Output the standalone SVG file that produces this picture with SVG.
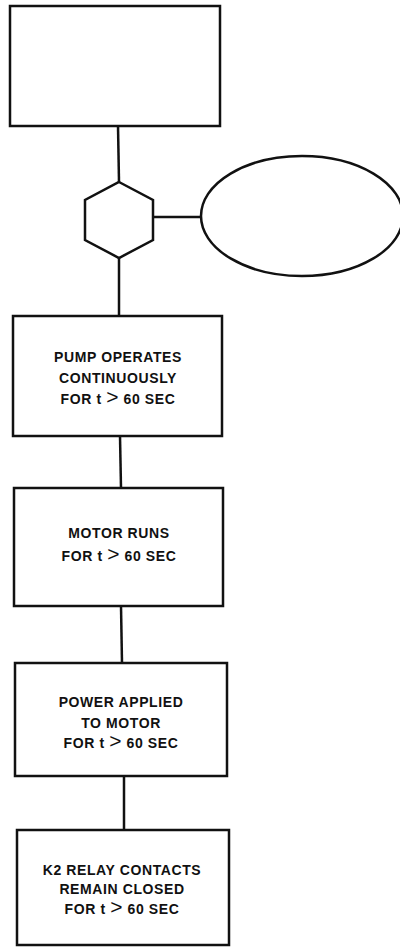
<svg xmlns="http://www.w3.org/2000/svg" width="400" height="947" viewBox="0 0 400 947">
<style>
.s{fill:#fff;stroke:#111;stroke-width:2.5}
.c{fill:none;stroke:#111;stroke-width:2.5}
.t{font-family:"Liberation Sans",Arial,sans-serif;font-weight:bold;font-size:14px;fill:#111;text-anchor:middle;letter-spacing:0.6px}
.g{font-weight:normal;font-size:21px}
</style>
<rect width="400" height="947" fill="#fff"/>
<g id="connectors">
<line class="c" x1="118" y1="126" x2="119" y2="182"/>
<line class="c" x1="153" y1="217" x2="201" y2="217"/>
<line class="c" x1="119" y1="258" x2="119" y2="316"/>
<line class="c" x1="120" y1="436" x2="121" y2="488"/>
<line class="c" x1="121" y1="606" x2="122" y2="663"/>
<line class="c" x1="124" y1="776" x2="124" y2="830"/>
</g>
<g id="n1"><rect class="s" x="10" y="6" width="210" height="120"/></g>
<g id="n2"><polygon class="s" points="119,182 153,200 153,240 119,258 85,240 85,200"/></g>
<g id="n3"><ellipse class="s" cx="302" cy="216" rx="101" ry="60"/></g>
<g id="n4"><rect class="s" x="13" y="316" width="209" height="120"/>
<text class="t" x="118" y="362">PUMP OPERATES</text>
<text class="t" x="118" y="383">CONTINUOUSLY</text>
<text class="t" x="118" y="404">FOR t <tspan class="g">&gt;</tspan> 60 SEC</text></g>
<g id="n5"><rect class="s" x="14" y="488" width="209" height="118"/>
<text class="t" x="119" y="538">MOTOR RUNS</text>
<text class="t" x="119" y="561">FOR t  <tspan class="g">&gt;</tspan> 60 SEC</text></g>
<g id="n6"><rect class="s" x="15" y="663" width="212" height="113"/>
<text class="t" x="121" y="707">POWER APPLIED</text>
<text class="t" x="121" y="728">TO MOTOR</text>
<text class="t" x="121" y="748">FOR t <tspan class="g">&gt;</tspan> 60 SEC</text></g>
<g id="n7"><rect class="s" x="17" y="830" width="212" height="115"/>
<text class="t" x="122" y="875">K2 RELAY CONTACTS</text>
<text class="t" x="122" y="894">REMAIN CLOSED</text>
<text class="t" x="122" y="914">FOR t <tspan class="g">&gt;</tspan> 60 SEC</text></g>
</svg>
